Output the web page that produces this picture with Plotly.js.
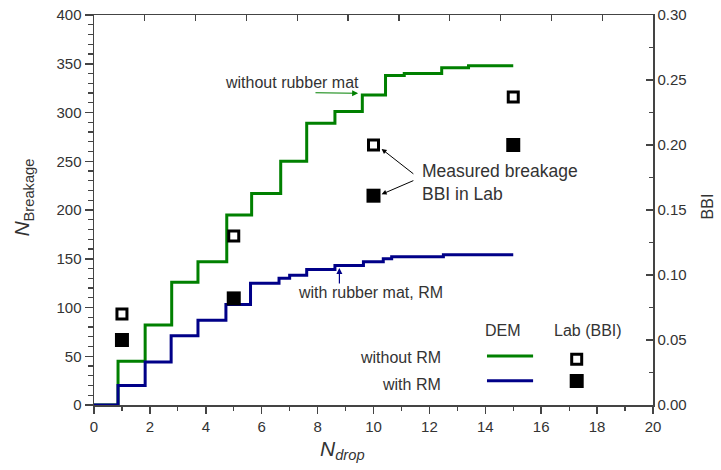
<!DOCTYPE html>
<html>
<head>
<meta charset="utf-8">
<script src="https://cdn.plot.ly/plotly-3.0.1.min.js"></script>
<style>html,body{margin:0;padding:0;background:#fff;}#chart{width:721px;height:470px;}</style>
</head>
<body>
<div id="chart"></div>
<script>
// DEM cumulative breakage (step curves)
const demWithoutX = [0, 0.86, 1.83, 2.78, 3.72, 4.75, 5.64, 6.68, 7.61, 8.62, 9.6, 10.43, 11.1, 12.44, 13.4, 15.0];
const demWithoutY = [0, 45, 82, 126, 147, 195, 217, 250, 289, 301, 318, 338, 340, 346, 348, 348];
const demWithX = [0, 0.86, 1.83, 2.76, 3.72, 4.72, 5.6, 6.62, 7.0, 7.61, 8.62, 9.64, 10.35, 10.65, 12.5, 15.0];
const demWithY = [0, 20, 44, 71, 87, 103, 125, 130, 133, 139, 143, 147, 150, 152, 154, 154];
// Lab measurements (BBI)
const labX = [1, 5, 10, 15];
const bbiWithout = [0.070, 0.130, 0.200, 0.237];
const bbiWith = [0.050, 0.082, 0.161, 0.200];

const green = '#008000';
const blue = '#000088';
const txt = '#333333';
const FONT = 'Liberation Sans, Arial, sans-serif';

const traces = [
  {x: demWithoutX, y: demWithoutY, type: 'scatter', mode: 'lines', line: {color: green, width: 3, shape: 'hv'}, showlegend: false, hoverinfo: 'skip'},
  {x: demWithX, y: demWithY, type: 'scatter', mode: 'lines', line: {color: blue, width: 3, shape: 'hv'}, showlegend: false, hoverinfo: 'skip'},
  {x: labX, y: bbiWithout, yaxis: 'y2', type: 'scatter', mode: 'markers', marker: {symbol: 'square', size: 10, color: '#ffffff', line: {color: '#000', width: 3}}, showlegend: false},
  {x: labX, y: bbiWith, yaxis: 'y2', type: 'scatter', mode: 'markers', marker: {symbol: 'square', size: 14, color: '#000', line: {color: '#000', width: 0}}, showlegend: false},
  {x: [], y: [], xaxis: 'x2', type: 'scatter', mode: 'lines', showlegend: false}
];

const annFont = {family: FONT, size: 16, color: txt};
const layout = {
  width: 721, height: 470,
  margin: {l: 94, r: 68, t: 15, b: 65},
  paper_bgcolor: '#fff', plot_bgcolor: '#fff',
  font: {family: FONT, size: 15, color: txt},
  showlegend: false,
  xaxis: {
    range: [0, 20], dtick: 2, tick0: 0, ticks: 'outside', ticklen: 7, tickwidth: 1.5, tickcolor: '#444',
    showline: true, linecolor: '#444', linewidth: 1.5, showgrid: false, zeroline: false,
    tickfont: {family: FONT, size: 15, color: txt},
    minor: {dtick: 1, ticks: 'outside', ticklen: 4, tickcolor: '#444', tickwidth: 1.2}
  },
  xaxis2: {
    overlaying: 'x', side: 'top', anchor: 'y', range: [0, 11], dtick: 1, ticks: 'inside', ticklen: 6,
    tickcolor: '#444', tickwidth: 1.3, showticklabels: false, showline: true, linecolor: '#444', linewidth: 1.5,
    showgrid: false, zeroline: false
  },
  yaxis: {
    range: [0, 400], dtick: 50, ticks: 'outside', ticklen: 8, tickwidth: 1.5, tickcolor: '#444',
    showline: true, linecolor: '#444', linewidth: 1.5, showgrid: false, zeroline: false,
    tickfont: {family: FONT, size: 15, color: txt},
    minor: {dtick: 10, ticks: 'outside', ticklen: 5, tickcolor: '#444', tickwidth: 1.2}
  },
  yaxis2: {
    overlaying: 'y', side: 'right', range: [0, 0.3], dtick: 0.05, tickformat: '.2f', ticks: 'inside', ticklen: 7,
    tickwidth: 1.5, tickcolor: '#444', showline: true, linecolor: '#444', linewidth: 1.5, showgrid: false, zeroline: false,
    tickfont: {family: FONT, size: 15, color: txt},
    minor: {dtick: 0.025, ticks: 'inside', ticklen: 4, tickcolor: '#444', tickwidth: 1.2}
  },
  shapes: [
    {type: 'line', xref: 'x', yref: 'y', x0: 14.06, x1: 15.71, y0: 50.3, y1: 50.3, line: {color: green, width: 3}},
    {type: 'line', xref: 'x', yref: 'y', x0: 14.06, x1: 15.71, y0: 24.9, y1: 24.9, line: {color: blue, width: 3}},
    {type: 'rect', xref: 'x', yref: 'y', xsizemode: 'pixel', ysizemode: 'pixel', xanchor: 17.27, yanchor: 46.9,
      x0: -5, x1: 5, y0: -5, y1: 5, fillcolor: '#fff', line: {color: '#000', width: 3}},
    {type: 'rect', xref: 'x', yref: 'y', xsizemode: 'pixel', ysizemode: 'pixel', xanchor: 17.27, yanchor: 24.6,
      x0: -7, x1: 7, y0: -7, y1: 7, fillcolor: '#000', line: {color: '#000', width: 0}}
  ],
  annotations: [
    {xref: 'paper', yref: 'paper', x: -0.153, y: 0.533, textangle: -90, showarrow: false,
      text: '<i>N</i><sub>Breakage</sub>', font: {family: FONT, size: 21, color: txt}},
    {xref: 'paper', yref: 'paper', x: 0.444, y: -0.155, showarrow: false,
      text: '<i>N<sub>drop</sub></i>', font: {family: FONT, size: 21, color: txt}},
    {xref: 'paper', yref: 'paper', x: 1.116, y: 0.51, textangle: -90, showarrow: false,
      text: 'BBI', font: {family: FONT, size: 16, color: txt}},
    {xref: 'x', yref: 'y', x: 7.1, y: 331, showarrow: false, text: 'without rubber mat', font: {family: FONT, size: 16, color: txt}},
    {xref: 'x', yref: 'y', x: 9.45, y: 319.7, axref: 'x', ayref: 'y', ax: 7.87, ay: 320.3, text: '', showarrow: true,
      arrowhead: 2, arrowsize: 1, arrowwidth: 1.2, arrowcolor: green},
    {xref: 'x', yref: 'y', x: 9.89, y: 114.9, showarrow: false, text: 'with rubber mat, RM', font: {family: FONT, size: 16, color: txt}},
    {xref: 'x', yref: 'y', x: 8.78, y: 140.5, axref: 'x', ayref: 'y', ax: 8.78, ay: 123, text: '', showarrow: true,
      arrowhead: 2, arrowsize: 1, arrowwidth: 1.2, arrowcolor: blue},
    {xref: 'x', yref: 'y', x: 11.66, y: 228.7, xanchor: 'left', showarrow: false, align: 'left',
      text: 'Measured breakage<br>BBI in Lab', font: {family: FONT, size: 17.5, color: txt}},
    {xref: 'x', yref: 'y', x: 10.29, y: 262.6, axref: 'x', ayref: 'y', ax: 11.48, ay: 235.9, text: '', showarrow: true,
      arrowhead: 2, arrowsize: 1, arrowwidth: 1, arrowcolor: '#000'},
    {xref: 'x', yref: 'y', x: 10.29, y: 216.1, axref: 'x', ayref: 'y', ax: 11.48, ay: 230.8, text: '', showarrow: true,
      arrowhead: 2, arrowsize: 1, arrowwidth: 1, arrowcolor: '#000'},
    {xref: 'x', yref: 'y', x: 14.63, y: 76.9, showarrow: false, text: 'DEM', font: annFont},
    {xref: 'x', yref: 'y', x: 17.67, y: 76.9, showarrow: false, text: 'Lab (BBI)', font: annFont},
    {xref: 'x', yref: 'y', x: 12.49, y: 48.5, xanchor: 'right', showarrow: false, text: 'without RM', font: annFont},
    {xref: 'x', yref: 'y', x: 12.49, y: 21.5, xanchor: 'right', showarrow: false, text: 'with RM', font: annFont}
  ]
};

Plotly.newPlot('chart', traces, layout, {staticPlot: true, displayModeBar: false});
</script>
</body>
</html>
